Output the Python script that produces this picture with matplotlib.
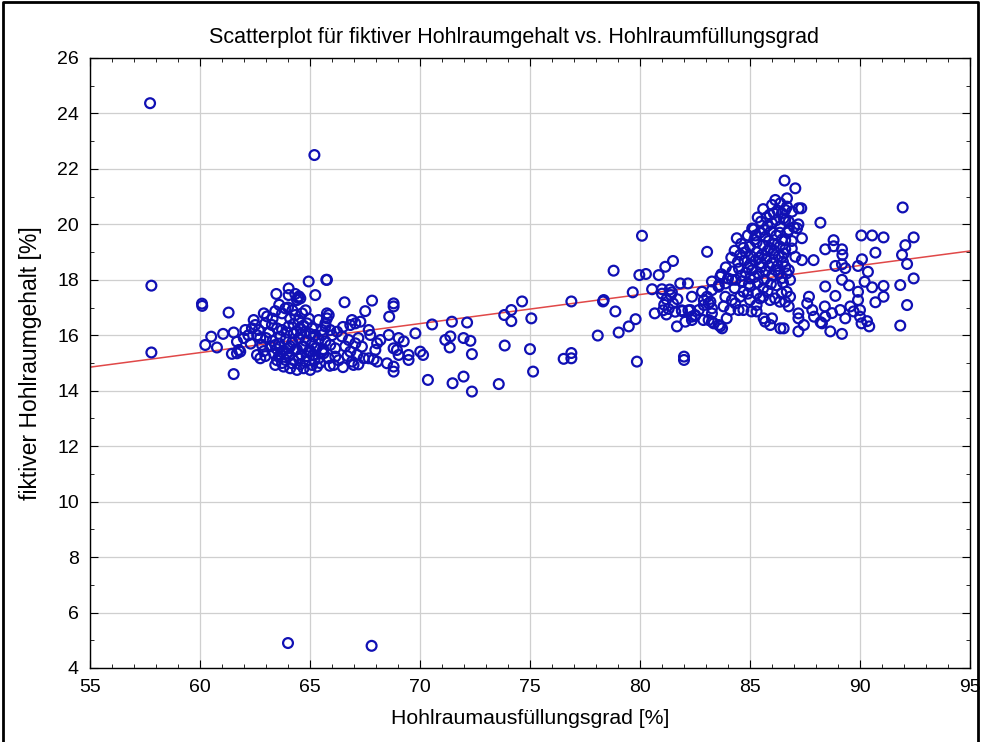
import numpy as np
import matplotlib
matplotlib.use("Agg")
import matplotlib.pyplot as plt
from matplotlib.ticker import MultipleLocator
from matplotlib.lines import Line2D

plt.rcParams['font.family'] = ['Liberation Sans', 'DejaVu Sans']

# einzelne Ausreisser
outliers = [(57.73, 24.37), (57.79, 17.79), (57.79, 15.38), (65.2, 22.5), (64.0, 4.9), (67.8, 4.8)]

# Gruppe 60-63 %
left_pts = [(60.09, 17.14), (60.1, 17.06), (61.3, 16.82), (61.53, 14.6), (60.24, 15.65), (60.51, 15.95),
            (60.77, 15.56), (61.05, 16.05), (61.53, 16.1), (61.68, 15.77), (61.99, 15.9), (62.06, 16.19),
            (61.76, 15.47), (61.45, 15.33), (61.68, 15.35), (61.83, 15.41), (62.44, 16.55), (62.51, 16.37),
            (62.36, 16.25), (62.67, 16.19), (62.9, 16.79), (63.05, 16.68), (62.97, 16.43), (62.59, 15.29),
            (62.97, 15.25), (62.74, 15.17), (62.9, 15.43), (62.74, 15.9), (62.82, 15.65), (62.2, 16.0),
            (62.6, 16.0), (62.3, 15.7)]

# Kern 63-66 %
core_left = [(63.47, 17.49), (64.03, 17.69), (64.03, 17.45), (64.33, 17.49), (64.56, 17.33), (64.41, 17.27),
             (64.94, 17.94), (65.74, 18.0), (65.24, 17.45), (64.5, 17.4), (64.45, 17.35),
             (63.42, 16.87), (63.73, 16.79), (63.88, 16.97), (64.33, 16.73), (64.49, 16.55), (64.64, 16.79),
             (64.86, 16.43), (63.27, 16.37), (63.5, 16.25), (63.73, 16.19), (64.03, 16.32), (64.26, 16.07),
             (64.56, 16.25), (64.79, 16.13), (65.09, 16.25), (65.24, 16.01), (65.55, 16.19), (65.7, 16.43),
             (65.85, 16.73), (65.39, 16.55), (64.1, 16.6), (64.0, 17.0), (64.2, 16.9), (63.6, 17.1),
             (63.3, 16.6), (64.8, 16.9),
             (63.0, 15.9), (63.3, 15.8), (63.6, 15.7), (63.9, 15.85), (64.2, 15.75), (64.5, 15.9),
             (64.8, 15.8), (65.1, 15.7), (65.4, 15.85), (63.2, 15.6), (63.5, 15.5), (63.8, 15.45),
             (64.1, 15.6), (64.4, 15.5), (64.7, 15.6), (65.0, 15.45), (65.3, 15.55), (65.6, 15.5),
             (63.42, 15.65), (64.03, 15.53), (64.33, 15.47), (64.64, 15.59), (64.94, 15.41), (65.24, 15.53),
             (65.55, 15.41),
             (63.58, 15.23), (63.88, 15.11), (64.18, 14.99), (64.49, 15.17), (64.79, 15.05), (65.09, 14.93),
             (65.39, 15.17), (63.42, 14.93), (63.8, 14.87), (64.1, 14.81), (64.41, 14.75), (64.71, 14.81),
             (65.01, 14.75), (65.32, 14.87), (63.73, 15.0), (64.03, 15.25), (64.6, 15.3), (65.2, 15.1),
             (63.5, 15.1),
             (63.65, 15.95), (63.95, 16.1), (64.25, 16.4), (64.6, 16.05), (64.95, 16.6), (65.15, 15.95),
             (63.35, 15.35), (63.65, 15.3), (63.95, 15.35), (64.25, 15.1), (64.55, 14.95), (64.85, 15.25),
             (65.15, 15.3), (65.45, 15.0), (63.15, 16.1), (64.4, 16.15), (64.7, 16.35), (65.0, 16.05)]

# Gruppe 65.5-69 %
left_tail = [(65.77, 18.0), (66.57, 17.19), (67.82, 17.25), (68.8, 17.15), (68.8, 17.04), (65.77, 16.79),
             (65.77, 16.61), (67.51, 16.87), (68.6, 16.67), (66.91, 16.55), (66.83, 16.37), (67.06, 16.43),
             (67.29, 16.49), (67.67, 16.19), (67.74, 16.01), (68.58, 16.01), (69.03, 15.9), (69.26, 15.78),
             (68.2, 15.83), (68.05, 15.71), (67.97, 15.47), (68.8, 15.53), (68.95, 15.47), (69.03, 15.29),
             (67.67, 15.17), (67.89, 15.13), (68.05, 15.05), (68.5, 14.99), (68.8, 14.87), (68.8, 14.69),
             (66.15, 15.53), (66.15, 15.23), (66.08, 14.93), (66.45, 15.96), (66.76, 15.83), (67.06, 15.71),
             (67.36, 15.59), (66.83, 15.41), (67.14, 15.29), (66.91, 15.05), (66.98, 14.93), (67.44, 15.17),
             (65.55, 16.01), (65.7, 15.78), (65.92, 15.65), (65.62, 15.35), (65.85, 15.17), (65.7, 16.32),
             (65.92, 16.19), (66.23, 16.13), (66.5, 16.3), (66.0, 16.0), (66.6, 15.6), (66.3, 15.1),
             (66.7, 15.25), (67.2, 15.9), (65.9, 14.9), (66.5, 14.85), (67.2, 14.95)]

# Bereich 69-80 %
mid_pts = [(69.79, 16.07), (70.55, 16.39), (71.45, 16.49), (72.14, 16.46), (73.83, 16.73), (74.15, 16.91),
           (74.15, 16.51), (74.64, 17.22), (75.06, 16.61), (76.88, 17.22), (78.32, 17.22), (78.88, 16.86),
           (79.03, 16.1), (78.08, 15.99), (71.15, 15.83), (71.38, 15.96), (71.35, 15.56), (71.98, 15.9),
           (72.29, 15.8), (72.36, 15.32), (69.48, 15.29), (69.48, 15.11), (70.01, 15.41), (70.14, 15.29),
           (70.36, 14.39), (71.48, 14.27), (71.98, 14.51), (72.36, 13.97), (73.58, 14.24), (73.85, 15.63),
           (75.0, 15.5), (75.14, 14.69), (76.53, 15.15), (76.88, 15.36), (76.88, 15.17), (78.8, 18.33),
           (78.35, 17.27), (79.49, 16.32), (79.8, 16.58), (79.86, 15.05), (79.67, 17.55), (79.97, 18.17),
           (80.09, 19.59)]

# Bereich 80-84 %
band_pts = [(80.27, 18.21), (80.55, 17.66), (81.0, 17.66), (80.85, 18.17), (81.15, 18.47), (81.5, 18.68),
            (80.67, 16.79), (81.68, 16.32), (82.0, 15.23), (82.0, 15.11), (81.83, 17.87), (82.18, 17.87),
            (82.36, 17.39), (81.9, 16.9), (82.2, 16.9), (82.5, 16.7), (83.05, 19.01), (82.9, 17.27),
            (83.12, 17.15), (83.27, 16.97), (83.12, 16.55), (83.35, 16.43), (83.65, 16.32), (83.27, 17.63),
            (83.57, 17.75), (81.91, 16.87), (82.29, 16.91), (82.51, 16.73), (82.36, 16.55), (82.06, 16.49),
            (81.0, 17.5), (81.2, 17.3), (81.4, 17.45), (81.1, 17.1), (81.3, 16.95), (81.5, 17.15),
            (81.6, 16.85), (81.2, 16.75), (81.45, 17.55), (81.7, 17.3), (81.05, 16.9), (81.35, 17.65),
            (83.65, 18.11), (83.27, 17.94), (83.58, 17.81), (83.88, 17.87), (84.18, 18.0), (82.82, 17.57),
            (83.05, 17.39), (83.2, 17.21), (82.9, 17.09), (82.67, 16.91), (83.27, 16.79), (82.35, 16.67),
            (82.88, 16.55), (83.27, 16.49), (83.58, 16.37), (83.73, 16.25), (83.88, 17.39), (84.18, 17.27),
            (83.8, 17.04), (84.1, 16.91), (84.33, 17.15), (84.48, 16.91), (83.94, 16.61)]

# Kern 84-87 %
core_right = [(85.6, 20.55), (86.15, 20.88), (86.38, 20.76), (86.68, 20.64), (86.91, 20.46), (87.21, 20.58),
              (86.0, 20.7), (85.9, 20.35), (86.25, 20.5),
              (86.08, 20.4), (86.53, 20.22), (86.76, 20.1), (86.38, 19.92), (86.0, 20.04), (85.17, 19.82),
              (85.5, 20.1), (85.8, 19.95), (86.2, 20.15), (85.35, 20.25), (87.0, 19.9),
              (84.9, 19.6), (85.2, 19.45), (85.45, 19.7), (85.7, 19.55), (85.95, 19.75), (86.2, 19.6),
              (86.45, 19.45), (86.7, 19.7), (84.6, 19.3), (85.0, 19.2), (85.3, 19.35), (85.6, 19.25),
              (85.85, 19.4), (86.1, 19.3), (86.35, 19.2), (86.6, 19.1), (84.4, 19.5), (85.1, 19.85),
              (85.65, 19.8), (86.9, 19.4),
              (84.3, 19.05), (84.55, 18.9), (84.8, 19.0), (85.05, 18.85), (85.3, 19.0), (85.55, 18.9),
              (85.8, 19.05), (86.05, 18.95), (86.3, 18.85), (86.55, 18.95), (84.15, 18.8), (84.45, 18.65),
              (84.75, 18.7), (85.0, 18.55), (85.25, 18.7), (85.5, 18.6), (85.75, 18.75), (86.0, 18.6),
              (86.25, 18.5), (86.5, 18.65),
              (83.9, 18.45), (84.2, 18.3), (84.5, 18.4), (84.8, 18.25), (85.1, 18.35), (85.4, 18.2),
              (85.7, 18.3), (86.0, 18.15), (86.3, 18.25), (83.7, 18.2), (84.0, 18.05), (84.35, 18.0),
              (84.65, 17.95), (85.0, 18.05), (85.35, 17.9), (85.65, 18.0), (85.95, 17.85),
              (84.7, 16.91), (85.07, 16.86), (85.3, 16.86), (85.62, 16.61), (85.69, 16.49), (86.0, 16.61),
              (85.92, 16.37), (86.38, 16.25), (85.0, 17.76), (85.3, 17.51), (85.6, 17.39), (85.91, 17.27),
              (86.14, 17.33), (86.36, 17.21), (86.44, 17.51), (86.67, 17.57), (86.82, 17.39), (85.0, 17.27),
              (85.3, 17.09), (85.45, 17.33), (84.7, 17.57), (84.55, 17.39), (86.67, 18.23), (86.82, 18.0),
              (86.6, 18.47), (87.2, 16.14), (87.2, 16.79), (87.2, 16.61), (84.3, 17.7), (84.9, 17.5),
              (85.6, 17.7), (86.2, 17.8),
              (85.2, 18.1), (85.5, 18.45), (85.85, 18.5), (86.15, 18.35), (84.6, 18.15), (84.9, 18.45),
              (85.25, 19.6), (85.75, 20.25), (86.45, 20.4), (86.1, 19.05), (85.4, 18.8), (84.7, 19.15),
              (85.9, 19.15), (86.35, 19.7), (84.95, 17.85), (85.8, 17.6), (86.5, 17.9)]

# Bereich 86.5-92.5 %
right_pts = [(86.57, 21.58), (87.06, 21.3), (87.33, 20.58), (88.2, 20.06), (87.89, 18.71), (88.42, 19.1),
             (88.8, 19.43), (88.8, 19.21), (89.18, 19.1), (89.2, 18.9), (88.88, 18.5), (89.18, 18.56),
             (89.33, 18.42), (89.18, 18.0), (89.5, 17.8), (90.06, 19.6), (90.55, 19.6), (91.07, 19.53),
             (90.09, 18.74), (89.91, 18.5), (90.36, 18.29), (90.21, 17.93), (90.7, 18.98), (90.55, 17.73),
             (91.07, 17.78), (91.07, 17.39), (90.7, 17.19), (91.94, 20.61), (92.44, 19.53), (92.06, 19.25),
             (91.91, 18.9), (92.14, 18.57), (92.44, 18.05), (91.83, 17.81), (92.14, 17.09), (91.83, 16.35),
             (89.91, 17.57), (89.91, 17.27), (90.0, 16.91), (90.0, 16.67), (90.07, 16.43), (90.32, 16.51),
             (90.42, 16.32), (88.65, 16.14), (89.18, 16.05), (87.68, 17.39), (87.6, 17.15), (87.83, 16.91),
             (87.91, 16.67), (87.45, 16.37), (88.21, 16.47), (88.42, 17.76), (88.4, 17.04), (88.73, 16.8),
             (88.88, 17.42), (89.1, 16.91), (89.33, 16.61), (89.56, 17.04), (89.71, 16.86), (88.42, 16.67),
             (88.27, 16.43), (86.45, 18.06), (86.6, 17.21), (86.76, 17.04), (86.53, 16.25), (86.6, 20.52),
             (86.6, 20.16), (86.76, 19.8), (86.6, 19.43), (86.9, 19.13), (86.45, 18.83), (87.06, 18.83),
             (87.36, 18.71), (86.76, 18.35), (86.68, 20.94), (87.36, 19.5), (87.14, 19.86), (87.2, 20.0)]

# Regressionsgerade (Endpunkte)
fit_x = [55, 95]
fit_y = [14.85, 19.04]

pts = np.array(outliers + left_pts + core_left + left_tail + mid_pts + band_pts + core_right + right_pts)

fig = plt.figure(figsize=(9.81, 7.42), dpi=100)
ax = fig.add_axes([90 / 981, 1 - 668 / 742, 880 / 981, 610 / 742])

ax.plot(fit_x, fit_y, color='#e04848', lw=1.1, zorder=2)
ax.scatter(pts[:, 0], pts[:, 1], s=50, facecolors='none', edgecolors='#1010b4',
           linewidths=1.6, zorder=3)

ax.set_xlim(55, 95)
ax.set_ylim(4, 26)
ax.xaxis.set_major_locator(MultipleLocator(5))
ax.xaxis.set_minor_locator(MultipleLocator(1))
ax.yaxis.set_major_locator(MultipleLocator(2))
ax.yaxis.set_minor_locator(MultipleLocator(1))
ax.tick_params(which='both', direction='in', top=True, right=True, labelsize=14, colors='black')
ax.tick_params(which='major', length=6, pad=8)
ax.tick_params(which='minor', length=3)
ax.grid(True, which='major', color='#cfcfcf', lw=0.9)
ax.set_axisbelow(True)
for s in ax.spines.values():
    s.set_linewidth(1.0)

fig.text(0.524, 0.950, 'Scatterplot für fiktiver Hohlraumgehalt vs. Hohlraumfüllungsgrad',
         ha='center', va='center', fontsize=15.5)
fig.text(0.540, 0.032, 'Hohlraumausfüllungsgrad [%]', ha='center', va='center', fontsize=15.3)
fig.text(0.031, 0.511, 'fiktiver Hohlraumgehalt [%]', ha='center', va='center',
         rotation=90, fontsize=16.5)

# Rahmen um die Grafik
fig.add_artist(Line2D([0.003, 0.003, 0.997, 0.997], [0.0, 0.997, 0.997, 0.0],
                      transform=fig.transFigure, color='black', lw=2))

fig.savefig('out.png', dpi=100)
